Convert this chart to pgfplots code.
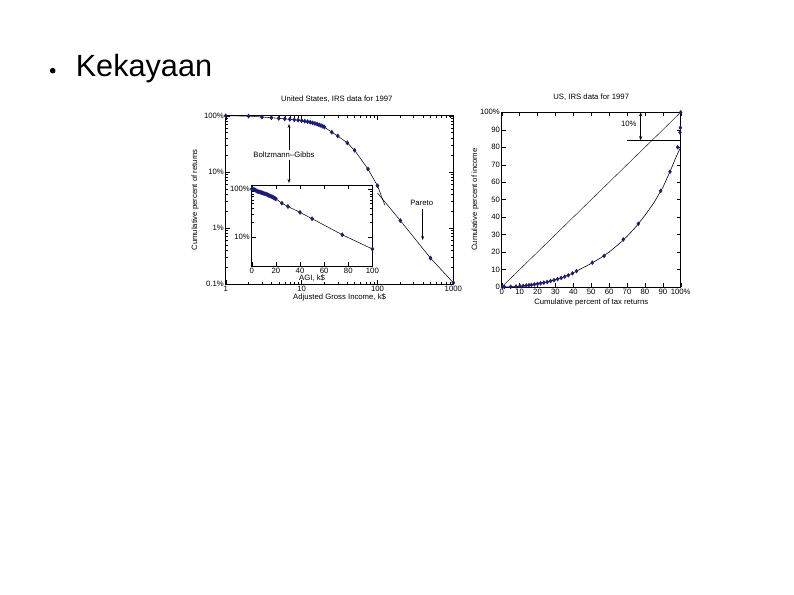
\documentclass[border=0pt]{standalone}
\usepackage{fontspec}
\setmainfont{Liberation Sans}
\usepackage{pgfplots}
\pgfplotsset{compat=1.18}
\usetikzlibrary{arrows.meta}
\definecolor{mk}{RGB}{28,28,120}
\begin{document}
\begin{tikzpicture}
\fill[white] (0,0) rectangle (595.5pt,-446.25pt);
\pgfplotsset{
 every axis/.append style={
  scale only axis, clip=false,
  font=\fontsize{5.8}{7}\selectfont,
  /pgf/number format/assume math mode=true,
  axis line style={line width=0.4pt}, tick style={line width=0.3pt, black},
  major tick length=3pt, minor tick length=1.5pt,
  xticklabel style={inner sep=1.2pt}, yticklabel style={inner sep=1.2pt},
 }
}
% ---------------- main log-log chart
\begin{axis}[at={(169.3pt,-213pt)}, anchor=south west, width=170.7pt, height=126.2pt,
 xmode=log, ymode=log, xmin=1, xmax=1000, ymin=0.1, ymax=100,
 xtick={1,10,100,1000}, xticklabels={1,10,100,1000},
 ytick={0.1,1,10,100}, yticklabels={0.1\%,1\%,10\%,100\%},
 title={United States, IRS data for 1997},
 title style={at={(axis description cs:0.488,1.053)}, anchor=center, inner sep=0pt},
 xlabel={Adjusted Gross Income, k\$},
 xlabel style={at={(axis description cs:0.5,-0.077)}, anchor=center, inner sep=0pt},
 ylabel={Cumulative percent of returns},
 ylabel style={at={(axis description cs:-0.135,0.5)}, anchor=center, inner sep=0pt},
]
\addplot[black, line width=0.4pt] coordinates {
(1,99.6)(2,98.5)(3,95)(4,92)(5,89.8)(6,88)(7,86.3)(8,84.8)(9,83.4)(10,81.7)
(11,80)(12,78.3)(13,76.5)(14,74.6)(15,72.7)(16,70.8)(17,68.8)(18,66.8)(19,64.8)(20,62.8)
(25,50.8)(30,43.5)(40,32.8)(50,24.2)(75,11.2)(100,5.65)(125,2.55)};
\addplot[black, line width=0.4pt] coordinates {
(100,4.2)(200,1.35)(500,0.29)(1000,0.105)};
\addplot[only marks, mark=diamond*, mark size=1.5pt, mk] coordinates {
(1,99.6)(2,98.5)(3,95)(4,92)(5,89.8)(6,88)(7,86.3)(8,84.8)(9,83.4)(10,81.7)
(11,80)(12,78.3)(13,76.5)(14,74.6)(15,72.7)(16,70.8)(17,68.8)(18,66.8)(19,64.8)(20,62.8)
(25,50.8)(30,43.5)(40,32.8)(50,24.2)(75,11.2)(100,5.65)(200,1.35)(500,0.29)(1000,0.105)};
\end{axis}
% ---------------- inset
\begin{axis}[at={(188.8pt,-199.5pt)}, anchor=south west, width=90.5pt, height=60.75pt,
 ymode=log, xmin=0, xmax=100, ymin=2.5, ymax=122,
 xtick={0,20,40,60,80,100}, ytick={10,100}, yticklabels={10\%,100\%},
 axis background/.style={fill=white},
 xlabel={AGI, k\$},
 xlabel style={at={(axis description cs:0.5,-0.144)}, anchor=center, inner sep=0pt},
]
\addplot[black, line width=0.4pt] coordinates {
(0,100)(1,99.6)(2,98.5)(3,95)(4,92)(5,89.8)(6,88)(7,86.3)(8,84.8)(9,83.4)(10,81.7)
(11,80)(12,78.3)(13,76.5)(14,74.6)(15,72.7)(16,70.8)(17,68.8)(18,66.8)(19,64.8)(20,62.8)
(25,50.8)(30,43.5)(40,32.8)(50,24.2)(75,11.2)(100,5.65)};
\addplot[only marks, mark=diamond*, mark size=1.5pt, mk] coordinates {
(0,100)(1,99.6)(2,98.5)(3,95)(4,92)(5,89.8)(6,88)(7,86.3)(8,84.8)(9,83.4)(10,81.7)
(11,80)(12,78.3)(13,76.5)(14,74.6)(15,72.7)(16,70.8)(17,68.8)(18,66.8)(19,64.8)(20,62.8)
(25,50.8)(30,43.5)(40,32.8)(50,24.2)(75,11.2)(100,5.65)};
\end{axis}
% ---------------- Lorenz chart
\begin{axis}[at={(376.3pt,-215.25pt)}, anchor=south west, width=134.25pt, height=131pt,
 xmin=0, xmax=100, ymin=0, ymax=100,
 xtick={0,10,20,30,40,50,60,70,80,90,100}, xticklabels={0,10,20,30,40,50,60,70,80,90,100\%},
 ytick={0,10,20,30,40,50,60,70,80,90,100}, yticklabels={0,10,20,30,40,50,60,70,80,90,100\%},
 title={US, IRS data for 1997},
 title style={at={(axis description cs:0.5,1.042)}, anchor=center, inner sep=0pt},
 xlabel={Cumulative percent of tax returns},
 xlabel style={at={(axis description cs:0.5,-0.088)}, anchor=center, inner sep=0pt},
 ylabel={Cumulative percent of income},
 ylabel style={at={(axis description cs:-0.149,0.5)}, anchor=center, inner sep=0pt},
]
\addplot[black, line width=0.3pt] coordinates {(0,0)(100,100)};
\addplot[black, line width=0.45pt] coordinates {
(0,0)(5,0.12)(10,0.45)(15,1.0)(20,1.8)(25,2.8)(30,4.2)(35,5.9)(40,8.1)(45,10.8)(50,13.5)
(55,16.5)(60,20)(65,24.2)(70,29)(75,34.5)(80,41)(85,48.2)(90,57)(94,66)(97,73.5)(99,78)(100,80)};
\addplot[only marks, mark=diamond*, mark size=1.4pt, mk] coordinates {
(0.4,0)(1.5,0.01)(5,0.12)(8,0.3)(10.2,0.5)(12,0.65)(13.7,0.85)(15.2,1.05)(16.6,1.25)(18.3,1.5)
(20,1.8)(21.7,2.1)(23.5,2.5)(25.4,2.9)(27.3,3.4)(29.2,3.9)(31.2,4.5)(33.2,5.2)(35.2,5.9)(37.2,6.7)
(39.5,7.8)(41.8,9.1)(50.6,13.9)(57.2,17.8)(67.9,27.2)(76.3,36.2)(88.8,55)(94,66)(98.3,80)
(99.6,88.5)(99.8,91.2)(100,100)};
\draw[line width=0.45pt] (axis cs:69.8,84.1) -- (axis cs:100,84.1);
\draw[line width=0.45pt, {Stealth[length=3pt,width=2.4pt]}-{Stealth[length=3pt,width=2.4pt]}] (axis cs:77.6,100) -- (axis cs:77.6,84.1);
\node[font=\fontsize{5.8}{7}\selectfont] at (axis cs:71,93.5) {10\%};
\end{axis}
% ---------------- annotations and slide title
\begin{scope}[x=0.75pt, y=-0.75pt]
\fill (52.7,70.7) circle (2.8);
\node[anchor=base west, inner sep=0pt, font=\fontsize{23}{27}\selectfont] at (75.5,77) {Kekayaan};
\node[font=\fontsize{5.8}{7}\selectfont] at (284,155) {Boltzmann--Gibbs};
\draw[line width=0.4pt, -{Stealth[length=3pt,width=2.2pt]}] (289,150.5) -- (289,124);
\draw[line width=0.4pt, -{Stealth[length=3pt,width=2.2pt]}] (289,160) -- (289,183);
\node[font=\fontsize{5.8}{7}\selectfont] at (421.7,203.3) {Pareto};
\draw[line width=0.4pt, -{Stealth[length=3pt,width=2.2pt]}] (422.7,209.5) -- (422.7,240);
\end{scope}
\end{tikzpicture}
\end{document}
